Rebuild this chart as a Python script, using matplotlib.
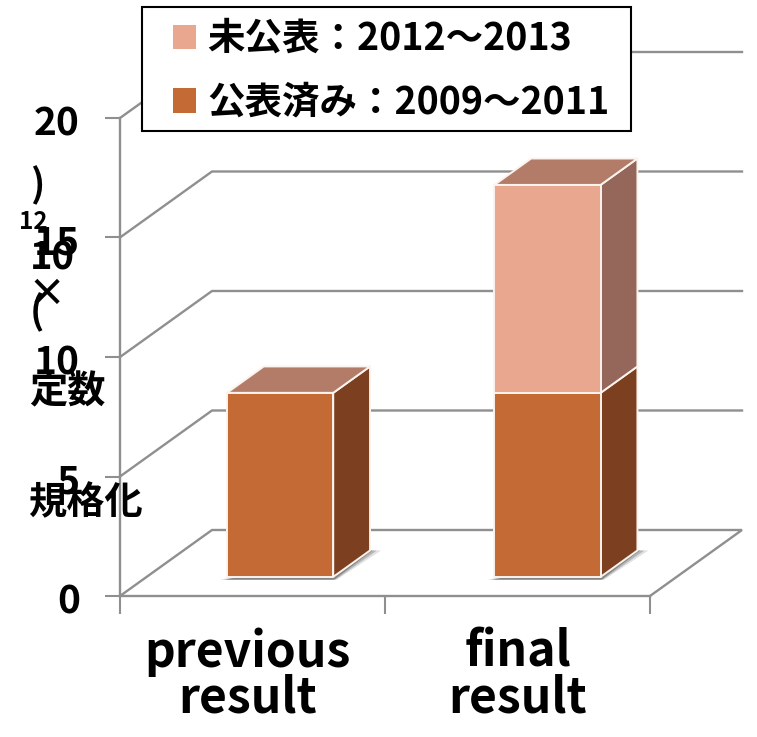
#!/usr/bin/env python3
"""Stacked pseudo-3D bars: normalisation constant, previous vs final result."""

import matplotlib
matplotlib.use('Agg')
import matplotlib.pyplot as plt
from matplotlib.patches import Patch, Polygon, Rectangle
from matplotlib.transforms import ScaledTranslation

W, H = 757, 737

categories = ['previous\nresult', 'final\nresult']
published = [7.7, 7.7]
unpublished = [0.0, 8.7]
series_names = ['未公表：2012～2013', '公表済み：2009～2011']
y_ticks = [0, 5, 10, 15, 20]

plt.rcParams['font.family'] = ['Noto Sans CJK JP', 'DejaVu Sans']
plt.rcParams['font.weight'] = 'bold'

GRID = '#8f8f8f'
LOWER = ('#c46a35', '#7c4020', '#b37c69')   # front, side, top
UPPER = ('#e9a790', '#94675a', '#b37c69')

fig = plt.figure(figsize=(W / 100, H / 100), dpi=100)
ax = fig.add_axes([120 / W, (H - 596) / H, 530 / W, 478 / H])
ax.set_xlim(0, 2)
ax.set_ylim(0, 20)

# depth of the box, in data units (one full depth = 92 px right, 66 px up)
DX = 92 / 265
DY = 66 / 23.9
BAR_D0, BAR_D1 = 0.29, 0.69
BAR_WIDTH = 0.401
BAR_LEFT = [0.303, 1.312]


def proj(x, y, d=0.0):
    return (x + d * DX, y + d * DY)


def face(points, color, z=3):
    ax.add_patch(Polygon(points, closed=True, facecolor=color, edgecolor='#fbf3ee',
                         linewidth=1.4, clip_on=False, zorder=z, joinstyle='round'))


def draw_box(left, bottom, top, colors, show_top=True):
    right = left + BAR_WIDTH
    face([proj(right, bottom, BAR_D0), proj(right, bottom, BAR_D1),
          proj(right, top, BAR_D1), proj(right, top, BAR_D0)], colors[1])
    if show_top:
        face([proj(left, top, BAR_D0), proj(right, top, BAR_D0),
              proj(right, top, BAR_D1), proj(left, top, BAR_D1)], colors[2])
    face([proj(left, bottom, BAR_D0), proj(right, bottom, BAR_D0),
          proj(right, top, BAR_D0), proj(left, top, BAR_D0)], colors[0], z=3.1)


# back wall and floor lines
for v in y_ticks:
    pts = [proj(0, v), proj(0, v, 1), proj(2, v, 1)]
    if v == 0:
        pts.append(proj(2, v))
    ax.plot([p[0] for p in pts], [p[1] for p in pts], color=GRID, lw=1.7,
            clip_on=False, zorder=1, solid_joinstyle='miter')

for left, low, high in zip(BAR_LEFT, published, unpublished):
    # soft contact shadow on the floor
    for grow, alpha in [(0.026, 0.2), (0.016, 0.35), (0.006, 0.6)]:
        ax.add_patch(Polygon([proj(left - grow, -0.12, BAR_D0),
                              proj(left + BAR_WIDTH + grow * 0.5, -0.12, BAR_D0),
                              proj(left + BAR_WIDTH + grow * 1.6, 0, BAR_D1),
                              proj(left + BAR_WIDTH, 0, BAR_D1)],
                             closed=True, facecolor='#666666', edgecolor='none',
                             alpha=alpha, clip_on=False, zorder=1.5))
    draw_box(left, 0, low, LOWER, show_top=high == 0)
    if high > 0:
        draw_box(left, low, low + high, UPPER)

# axes
for side in ('top', 'right'):
    ax.spines[side].set_visible(False)
for side in ('left', 'bottom'):
    ax.spines[side].set_color(GRID)
    ax.spines[side].set_linewidth(1.7)
ax.patch.set_alpha(0)

ax.set_yticks(y_ticks)
ax.tick_params(axis='y', length=10.8, width=1.5, color=GRID, pad=18, labelsize=28)
# digits sit a little below their tick in the original
nudge = ScaledTranslation(0, -2 / 100, fig.dpi_scale_trans)
for label in ax.get_yticklabels():
    label.set_transform(label.get_transform() + nudge)
ax.set_xticks([0, 1, 2], ['', '', ''])
ax.tick_params(axis='x', which='major', length=13, width=1.5, color=GRID)
ax.set_xticks([0.48, 1.5], categories, minor=True)
ax.tick_params(axis='x', which='minor', length=0, pad=22.5, labelsize=34.6)
for label in ax.get_xticklabels(minor=True):
    label.set_linespacing(0.92)


def px_text(x, y, s, size):
    fig.text(x / W, 1 - y / H, s, fontsize=size, ha='center', va='center', zorder=6)


# y title is laid out in separate runs in the original
px_text(85, 503, '規格化', 27.5)
px_text(67, 392, '定数', 27.5)
px_text(37, 312, '(', 27.5)
px_text(47, 294, '×', 27.5)
px_text(52, 258, '10', 27.5)
px_text(33, 222, '12', 17.5)
px_text(37, 185, ')', 27.5)

# legend: frame drawn apart so the padding can differ from the row spacing
fig.add_artist(Rectangle((142 / W, 1 - 131 / H), 489 / W, 124 / H, transform=fig.transFigure,
                         facecolor='white', edgecolor='black', linewidth=1.5, zorder=4))
handles = [Patch(facecolor=UPPER[0], label=series_names[0]),
           Patch(facecolor=LOWER[0], label=series_names[1])]
leg = fig.legend(handles=handles, loc='upper left', bbox_to_anchor=(173 / W, 1 - 19 / H),
                 frameon=False, fontsize=27, borderpad=0, borderaxespad=0,
                 handlelength=0.62, handleheight=0.62, handletextpad=0.3, labelspacing=0.66)
leg.set_zorder(5)

fig.savefig('out.png', dpi=100)
plt.close(fig)
